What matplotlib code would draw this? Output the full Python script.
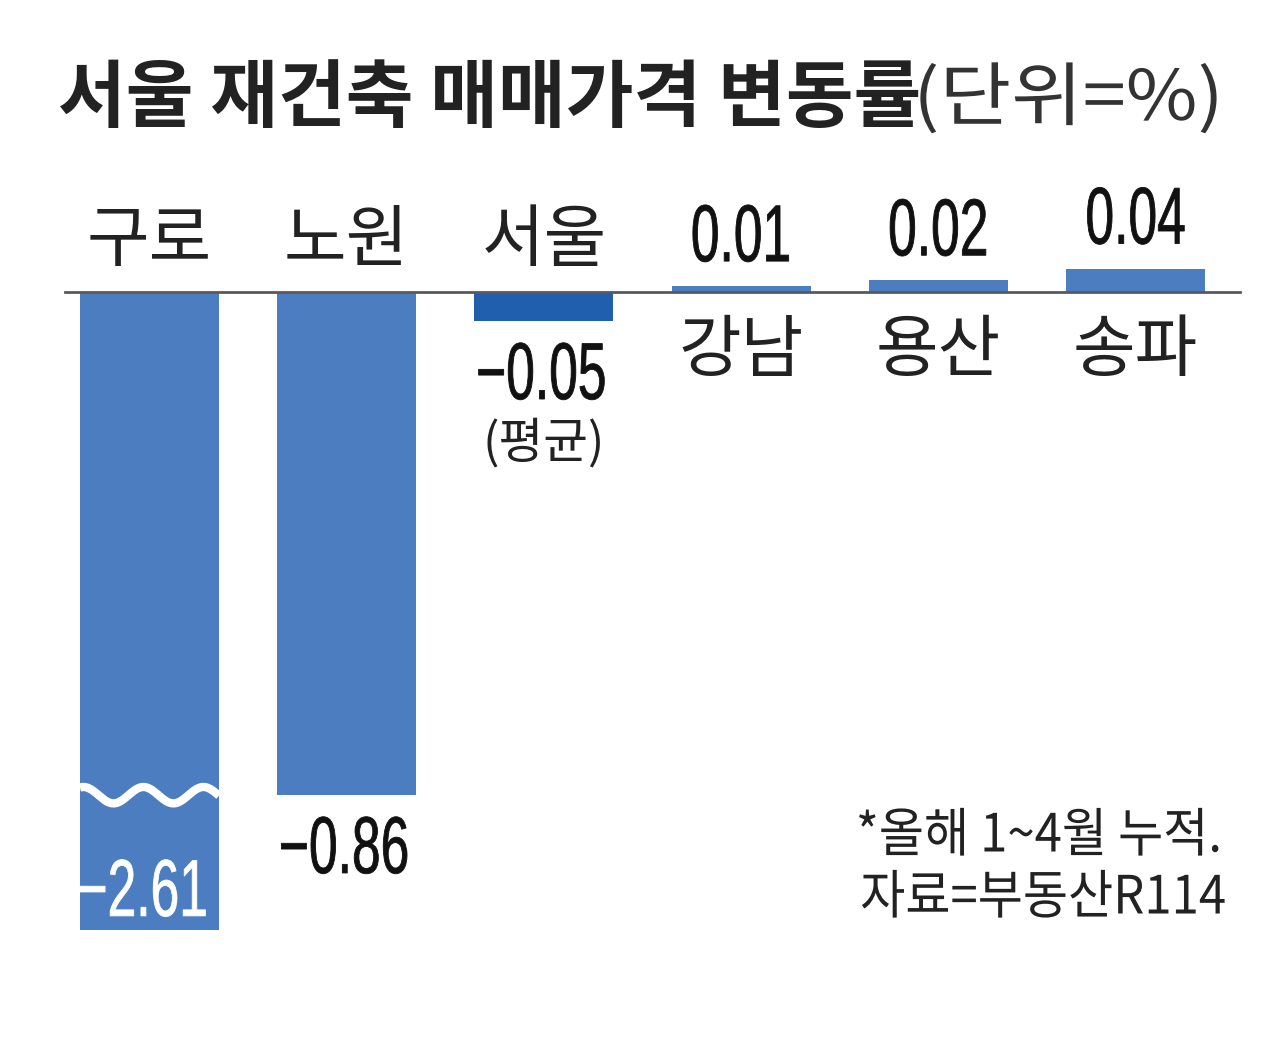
import numpy as np
import matplotlib
matplotlib.use('Agg')
import matplotlib.pyplot as plt
import matplotlib.transforms as mtransforms
from matplotlib import patheffects

# 서울 재건축 매매가격 변동률 (올해 1~4월 누적, %)
regions = ['구로', '노원', '서울', '강남', '용산', '송파']
changes = [-2.61, -0.86, -0.05, 0.01, 0.02, 0.04]
value_labels = ['−2.61', '−0.86', '−0.05', '0.01', '0.02', '0.04']

BAR = '#4b7dc0'
SEOUL = '#1f5fae'
TXT = '#222222'
KR = ['Noto Sans CJK KR', 'DejaVu Sans']
NUM = ['Liberation Sans', 'DejaVu Sans']


class Squeeze(patheffects.AbstractPathEffect):
    """Scale glyphs horizontally (condensed look) around an anchor, optional outline."""

    def __init__(self, sx, anchor='center', lw=0):
        super().__init__()
        self.sx = sx
        self.anchor = anchor
        self.lw = lw

    def draw_path(self, renderer, gc, tpath, affine, rgbFace=None):
        bb = tpath.get_extents(affine)
        cx = {'left': bb.x0, 'center': (bb.x0 + bb.x1) / 2, 'right': bb.x1}[self.anchor]
        t = affine + mtransforms.Affine2D().translate(-cx, 0).scale(self.sx, 1).translate(cx, 0)
        gc0 = renderer.new_gc()
        gc0.copy_properties(gc)
        if self.lw and rgbFace is not None:
            gc0.set_linewidth(self.lw)
            gc0.set_foreground(rgbFace)
        renderer.draw_path(gc0, tpath, t, rgbFace)
        gc0.restore()


W, H = 1280, 1062
fig = plt.figure(figsize=(W / 100, H / 100), dpi=100)
ax = fig.add_axes([0, 0, 1, 1])
ax.set_xlim(-0.758, 5.733)
ax.set_ylim(-1.316, 0.499)
ax.axis('off')


def px(x, y):
    return x / W, 1 - y / H


# 구로 bar is cut off (broken scale)
cut = -1.09
wave_at = -0.86
shown = [max(v, cut) for v in changes]
x = np.arange(len(regions))
colors = [SEOUL if r == '서울' else BAR for r in regions]
width = 0.705
ax.bar(x, shown, width=width, color=colors, zorder=2)
ax.plot([-0.428, 5.53], [0, 0], color='#5a5a5a', lw=2, zorder=3)

# wavy break mark
for i, v in enumerate(changes):
    if v < cut:
        wx = np.linspace(x[i] - width / 2, x[i] + width / 2, 200)
        wy = wave_at + 0.014 * np.sin((wx - wx[0]) / 0.304 * 2 * np.pi + 1.2)
        ax.plot(wx, wy, color='white', lw=6, zorder=4, solid_capstyle='butt')

num_fx = [Squeeze(0.64, lw=0.6)]
for i, (r, v, s, lab) in enumerate(zip(regions, changes, shown, value_labels)):
    if v < 0:
        ax.annotate(r, (x[i], 0), xytext=(0, 36), textcoords='offset points',
                    ha='center', va='center', fontsize=49, family=KR, color=TXT)
        if v < cut:
            ax.annotate(lab, (x[i], s), xytext=(-5, 10), textcoords='offset points',
                        ha='center', va='baseline', fontsize=58, family=NUM,
                        color='white', zorder=5, path_effects=num_fx)
        else:
            ax.annotate(lab, (x[i], s), xytext=(-2, -56), textcoords='offset points',
                        ha='center', va='baseline', fontsize=58, family=NUM,
                        color='#111111', path_effects=num_fx)
    else:
        ax.annotate(r, (x[i], 0), xytext=(0, -43), textcoords='offset points',
                    ha='center', va='center', fontsize=49, family=KR, color=TXT)
        ax.annotate(lab, (x[i], s), xytext=(0, 18), textcoords='offset points',
                    ha='center', va='baseline', fontsize=58, family=NUM,
                    color='#111111', path_effects=num_fx)
    if r == '서울':
        ax.annotate('(평균)', (x[i], s), xytext=(0, -88), textcoords='offset points',
                    ha='center', va='center', fontsize=35, family=KR, color=TXT)

fig.text(*px(58, 100), '서울 재건축 매매가격 변동률', fontsize=53, fontweight='bold',
         family=KR, color=TXT, ha='left', va='center')
fig.text(*px(914, 100), '(단위=%)', fontsize=50, family=KR, color='#333333',
         ha='left', va='center', path_effects=[Squeeze(1.12, 'left')])

fig.text(*px(1222, 836), '*올해 1~4월 누적.', fontsize=38, family=KR, color=TXT,
         ha='right', va='center', path_effects=[Squeeze(0.93, 'right')])
fig.text(*px(1226, 898), '자료=부동산R114', fontsize=38, family=KR, color=TXT,
         ha='right', va='center', path_effects=[Squeeze(0.93, 'right')])

fig.savefig('out.png', dpi=100, facecolor='white')
